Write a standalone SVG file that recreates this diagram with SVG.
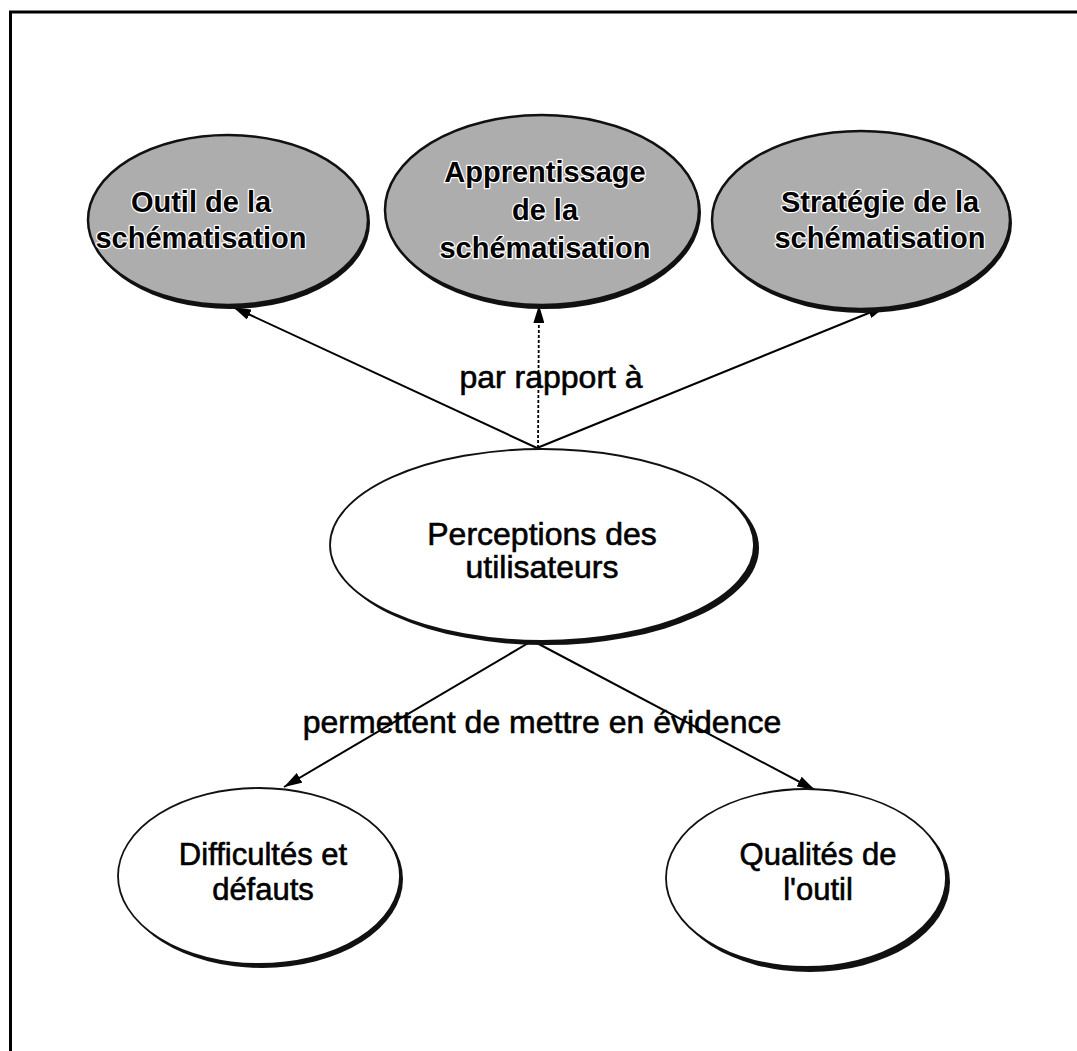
<svg xmlns="http://www.w3.org/2000/svg" width="1077" height="1051" viewBox="0 0 1077 1051">
  <style>
    .frame { fill: none; stroke: #000; stroke-width: 3; }
    .shade { fill: #111; }
    .topNode { fill: #adadad; stroke: #111; stroke-width: 2.5; }
    .plainNode { fill: #fff; stroke: #111; stroke-width: 1.8; }
    .bold { font-family: "Liberation Sans", Arial, sans-serif; font-weight: bold; font-size: 29px; fill: #000; text-anchor: middle; stroke: #fff; stroke-width: 2.5; paint-order: stroke; stroke-linejoin: round; }
    .label { font-family: "Liberation Sans", Arial, sans-serif; font-size: 32px; fill: #000; text-anchor: middle; stroke: #000; stroke-width: 0.6; }
    .small { font-size: 31px; }
    .link { stroke: #000; stroke-width: 2; fill: none; }
    .dotted { stroke: #000; stroke-width: 1.8; fill: none; stroke-dasharray: 3 2; }
  </style>
  <defs>
    <marker id="arrow" viewBox="0 0 18 11" refX="18" refY="5.5" markerWidth="18" markerHeight="11" markerUnits="userSpaceOnUse" orient="auto">
      <path d="M0,0 L18,5.5 L0,11 Z" fill="#000"/>
    </marker>
  </defs>

  <rect class="frame" x="10.5" y="12" width="1100" height="1100"/>

  <g id="connectors">
    <line class="link" x1="537" y1="448" x2="233" y2="307" marker-end="url(#arrow)"/>
    <line class="dotted" x1="538" y1="448" x2="539" y2="305" marker-end="url(#arrow)"/>
    <line class="link" x1="537" y1="448" x2="886" y2="306" marker-end="url(#arrow)"/>
    <line class="link" x1="530" y1="642" x2="284" y2="787" marker-end="url(#arrow)"/>
    <line class="link" x1="535" y1="642" x2="815" y2="790" marker-end="url(#arrow)"/>
    <text class="label" x="551" y="388">par rapport à</text>
    <text class="label" x="542" y="733">permettent de mettre en évidence</text>
  </g>

  <g id="outil">
    <ellipse class="shade" cx="230" cy="223" rx="140" ry="86"/>
    <ellipse class="topNode" cx="228" cy="220" rx="140" ry="85"/>
    <text class="bold" x="201" y="212">Outil de la</text>
    <text class="bold" x="201" y="248">schématisation</text>
  </g>

  <g id="apprentissage">
    <ellipse class="shade" cx="544" cy="213" rx="157" ry="96"/>
    <ellipse class="topNode" cx="542" cy="210" rx="157" ry="95"/>
    <text class="bold" x="545" y="182">Apprentissage</text>
    <text class="bold" x="545" y="220">de la</text>
    <text class="bold" x="545" y="258">schématisation</text>
  </g>

  <g id="strategie">
    <ellipse class="shade" cx="863" cy="223" rx="149" ry="90"/>
    <ellipse class="topNode" cx="861" cy="220" rx="149" ry="89"/>
    <text class="bold" x="880" y="212">Stratégie de la</text>
    <text class="bold" x="880" y="248">schématisation</text>
  </g>

  <g id="perceptions">
    <ellipse class="shade" cx="546" cy="548" rx="213" ry="97"/>
    <ellipse class="plainNode" cx="542" cy="545" rx="212" ry="96"/>
    <text class="label" x="542" y="545">Perceptions des</text>
    <text class="label" x="542" y="578">utilisateurs</text>
  </g>

  <g id="difficultes">
    <ellipse class="shade" cx="262" cy="879" rx="141" ry="89"/>
    <ellipse class="plainNode" cx="259" cy="876" rx="141" ry="88"/>
    <text class="label small" x="263" y="865">Difficultés et</text>
    <text class="label small" x="263" y="900">défauts</text>
  </g>

  <g id="qualites">
    <ellipse class="shade" cx="810" cy="882" rx="140" ry="90"/>
    <ellipse class="plainNode" cx="806" cy="878" rx="140" ry="89"/>
    <text class="label small" x="818" y="865">Qualités de</text>
    <text class="label small" x="818" y="900">l'outil</text>
  </g>
</svg>
